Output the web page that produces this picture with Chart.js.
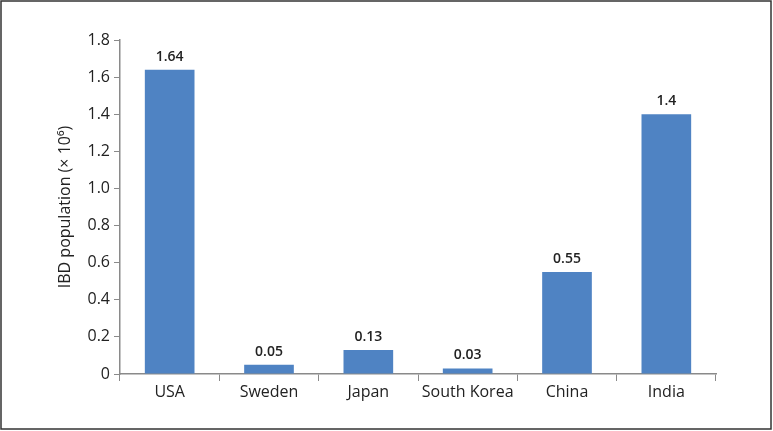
<!DOCTYPE html>
<html>
<head>
<meta charset="utf-8">
<script src="https://cdn.jsdelivr.net/npm/chart.js@4/dist/chart.umd.min.js"></script>
<style>
  html, body { margin: 0; padding: 0; background: #fff; }
  #wrap { width: 773px; height: 431px; position: relative; }
</style>
</head>
<body>
<div id="wrap"><canvas id="chart" width="773" height="431"></canvas></div>
<script>
const countries = ['USA', 'Sweden', 'Japan', 'South Korea', 'China', 'India'];
const ibdPopulation = [1.64, 0.05, 0.13, 0.03, 0.55, 1.4];
const valueLabels = ['1.64', '0.05', '0.13', '0.03', '0.55', '1.4'];
const yTitle = 'IBD population (\u00d7 10\u2076)';

const axisGray = '#8a8a8a';
const textColor = '#222';
const fontFamily = '"Open Sans", "Noto Sans", sans-serif';

// value labels above each bar + outer frame
const extras = {
    id: 'extras',
    afterDatasetsDraw(chart) {
        const ctx = chart.ctx;
        const meta = chart.getDatasetMeta(0);
        ctx.save();
        ctx.font = '600 14px ' + fontFamily;
        ctx.fillStyle = textColor;
        ctx.textAlign = 'center';
        ctx.textBaseline = 'alphabetic';
        meta.data.forEach((bar, i) => {
            ctx.fillText(valueLabels[i], bar.x, bar.y - 9);
        });
        ctx.restore();
    },
    afterDraw(chart) {
        const ctx = chart.ctx;
        ctx.save();
        ctx.strokeStyle = '#333';
        ctx.lineWidth = 1.5;
        ctx.strokeRect(1, 1, 770, 428);
        ctx.restore();
    }
};

new Chart(document.getElementById('chart'), {
    type: 'bar',
    data: {
        labels: countries,
        datasets: [{
            data: ibdPopulation,
            backgroundColor: '#4f83c3',
            categoryPercentage: 1.0,
            barPercentage: 0.5
        }]
    },
    options: {
        responsive: false,
        animation: false,
        layout: { padding: { top: 40, right: 57, bottom: 0, left: 56 } },
        plugins: {
            legend: { display: false },
            tooltip: { enabled: false }
        },
        scales: {
            x: {
                grid: {
                    offset: true,
                    drawOnChartArea: false,
                    drawTicks: true,
                    tickLength: 7,
                    color: axisGray
                },
                border: { color: axisGray, width: 1.5 },
                ticks: {
                    color: textColor,
                    padding: 2,
                    font: { family: fontFamily, size: 16 }
                },
                afterFit(scale) { scale.height = 57; }
            },
            y: {
                min: 0,
                max: 1.8,
                grid: {
                    drawOnChartArea: false,
                    drawTicks: true,
                    tickLength: 6,
                    color: axisGray
                },
                border: { color: axisGray, width: 1.5 },
                ticks: {
                    stepSize: 0.2,
                    color: textColor,
                    padding: 4,
                    font: { family: fontFamily, size: 16 },
                    callback: (v) => v === 0 ? '0' : v.toFixed(1)
                },
                title: {
                    display: true,
                    text: yTitle,
                    color: textColor,
                    font: { family: fontFamily, size: 16 },
                    padding: { top: 0, bottom: 0 }
                },
                afterFit(scale) { scale.width = 64; }
            }
        }
    },
    plugins: [extras]
});
</script>
</body>
</html>
